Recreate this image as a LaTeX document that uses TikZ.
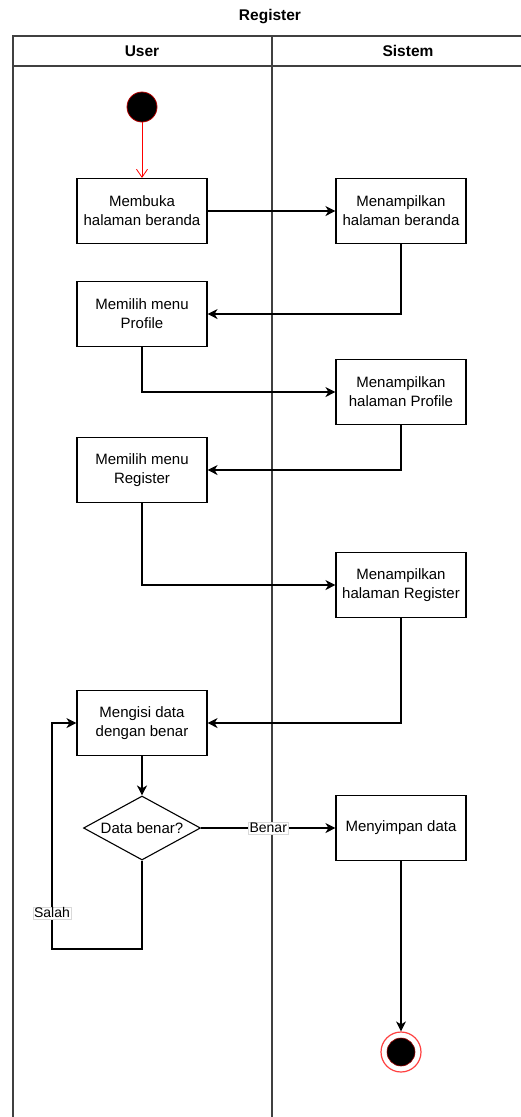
\documentclass[tikz,border=0pt]{standalone}
\usepackage{fontspec}
\setmainfont{Liberation Sans}
\usetikzlibrary{arrows.meta,shapes.geometric}

\begin{document}
\begin{tikzpicture}[x=1pt,y=-1pt,
  lane/.style={draw=black!75, line width=1.2pt},
  act/.style={draw=black, line width=1.1pt, fill=white, minimum width=130pt,
    minimum height=65pt, align=center, inner sep=0pt,
    font=\fontsize{15}{19}\selectfont},
  decision/.style={draw=black, line width=1.1pt, fill=white, diamond, aspect=1.83,
    minimum width=117pt, minimum height=64pt, inner sep=0pt,
    font=\fontsize{15}{17}\selectfont},
  flow/.style={draw=black, line width=1.1pt,
    -{Stealth[length=10pt,width=10pt,inset=3pt]}},
  startflow/.style={draw=red, line width=0.8pt,
    -{Straight Barb[length=8pt,width=11pt]}},
  lbl/.style={fill=white, draw=black!15, line width=0.4pt, inner sep=1pt,
    font=\fontsize{14}{15}\selectfont},
  head/.style={font=\bfseries\fontsize{15.5}{17}\selectfont}
]
\useasboundingbox (0,0) rectangle (521,1117);

% title and swimlanes
\node[head] (title) at (270,17) {Register};
\draw[lane] (521,36) -- (13,36) -- (13,1117);
\draw[lane] (13,66) -- (521,66);
\draw[lane] (272,36) -- (272,1117);
\node[head] (user) at (142,51) {User};
\node[head] (sistem) at (408,51) {Sistem};

% start and end
\node[circle, fill=black, draw=red!70!black, line width=0.8pt,
  minimum size=30pt, inner sep=0pt] (start) at (142,107) {};
\node[circle, fill=white, draw=red!75, line width=1.2pt,
  minimum size=40pt, inner sep=0pt] (end) at (401,1052) {};
\node[circle, fill=black, draw=red!60!black, line width=0.6pt,
  minimum size=28pt, inner sep=0pt] (endcore) at (end) {};

% activities
\node[act] (b1) at (142,211) {Membuka\\halaman beranda};
\node[act] (b2) at (401,211) {Menampilkan\\halaman beranda};
\node[act] (b3) at (142,314) {Memilih menu\\Profile};
\node[act] (b4) at (401,392) {Menampilkan\\halaman Profile};
\node[act] (b5) at (142,470) {Memilih menu\\Register};
\node[act] (b6) at (401,585) {Menampilkan\\halaman Register};
\node[act] (b7) at (142,723) {Mengisi data\\dengan benar};
\node[decision] (dec) at (142,828) {Data benar?};
\node[act] (b8) at (401,828) {Menyimpan data};
\coordinate (loop) at (52,949);

% connectors
\draw[startflow] (start) -- (b1.north);
\draw[flow] (b1) -- (b2);
\draw[flow] (b2.south) |- (b3.east);
\draw[flow] (b3.south) |- (b4.west);
\draw[flow] (b4.south) |- (b5.east);
\draw[flow] (b5.south) |- (b6.west);
\draw[flow] (b6.south) |- (b7.east);
\draw[flow] (b7) -- (dec);
\draw[flow] (dec) -- node[lbl] {Benar} (b8);
\draw[flow] (dec.south) |- (loop) -- node[lbl, pos=0.16] {Salah} (loop |- b7.west) -- (b7.west);
\draw[flow] (b8) -- (end);
\end{tikzpicture}
\end{document}
